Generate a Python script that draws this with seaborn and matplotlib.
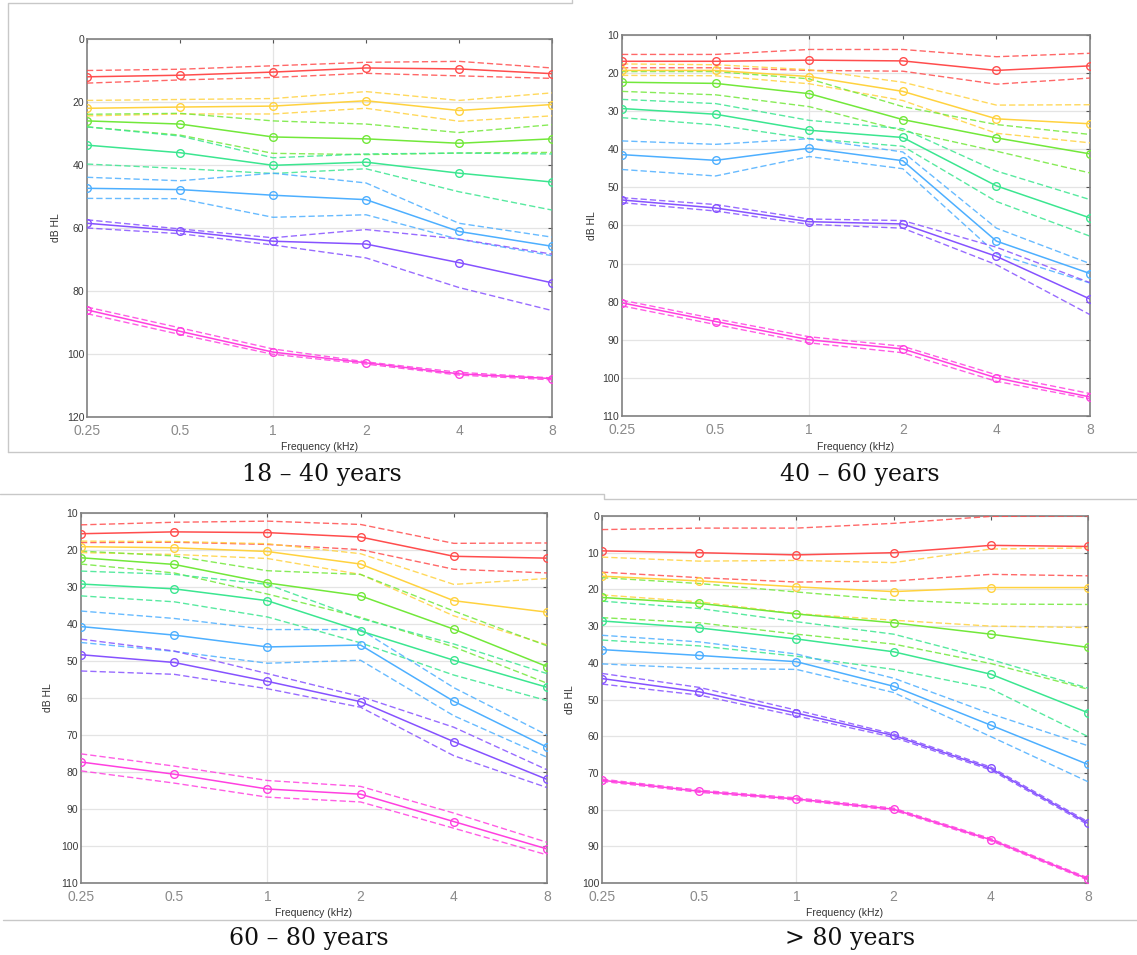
import matplotlib
matplotlib.use("Agg")
import matplotlib.pyplot as plt
from matplotlib.lines import Line2D
from matplotlib.ticker import NullLocator
import seaborn as sns

sns.set_style("white")
plt.rcParams["font.family"] = ["Liberation Sans", "DejaVu Sans"]

# ---------------- data ----------------
FREQS = [0.25, 0.5, 1, 2, 4, 8]
FREQ_LABELS = ["0.25", "0.5", "1", "2", "4", "8"]
GROUPS = ["red", "yellow", "green", "mint", "blue", "purple", "magenta"]
GROUP_COLORS = ["#FF4D4D", "#FFD23F", "#72E83A", "#3BE690", "#4DAFFF", "#8652FF", "#FF40E0"]
PANEL_TITLES = ["18 \u2013 40 years", "40 \u2013 60 years", "60 \u2013 80 years", "> 80 years"]
PANEL_YTICKS = [list(range(0, 121, 20)), list(range(10, 111, 10)),
                list(range(10, 111, 10)), list(range(0, 101, 10))]

# 18-40 years
p1_mean = [[12.0, 11.5, 10.5, 9.2, 9.5, 11.0],
           [22.0, 21.6, 21.3, 19.6, 22.7, 20.8],
           [26.0, 27.0, 31.1, 31.7, 33.1, 31.7],
           [33.7, 36.1, 40.1, 39.1, 42.6, 45.4],
           [47.4, 47.8, 49.6, 51.0, 61.1, 65.8],
           [58.5, 60.9, 64.2, 65.1, 71.0, 77.4],
           [86.0, 92.8, 99.4, 102.8, 106.3, 107.8]]
p1_upper = [[10.0, 9.6, 8.5, 7.4, 7.1, 9.2],
            [19.5, 19.2, 18.9, 16.7, 19.5, 17.1],
            [23.9, 23.6, 26.0, 27.0, 29.7, 27.2],
            [27.9, 30.8, 37.7, 36.5, 36.2, 36.5],
            [43.9, 45.0, 42.6, 45.7, 58.5, 62.9],
            [57.4, 60.3, 63.1, 60.5, 63.5, 68.3],
            [85.1, 91.7, 98.4, 102.5, 105.8, 107.6]]
p1_lower = [[14.0, 13.0, 12.2, 10.9, 11.7, 12.5],
            [24.4, 23.8, 23.8, 22.0, 26.1, 24.4],
            [27.9, 30.5, 36.3, 36.7, 36.2, 36.0],
            [39.7, 41.1, 42.7, 41.2, 48.5, 54.3],
            [50.6, 50.7, 56.6, 55.8, 63.6, 68.8],
            [60.0, 61.8, 65.4, 69.5, 78.9, 86.2],
            [87.2, 93.8, 100.1, 103.2, 106.7, 108.2]]

# 40-60 years
p2_mean = [[16.9, 16.9, 16.6, 16.8, 19.3, 18.1],
           [19.3, 19.3, 20.9, 24.8, 32.0, 33.3],
           [22.4, 22.7, 25.4, 32.2, 37.0, 41.2],
           [29.3, 30.8, 35.0, 36.9, 49.6, 58.0],
           [41.4, 42.9, 39.7, 43.0, 64.1, 72.6],
           [53.3, 55.4, 59.0, 59.6, 68.1, 79.3],
           [80.3, 85.2, 90.0, 92.4, 100.0, 105.0]]
p2_upper = [[15.1, 15.1, 13.8, 13.8, 15.7, 14.8],
            [17.6, 17.8, 19.1, 22.4, 28.4, 28.3],
            [19.6, 19.6, 21.5, 28.8, 33.5, 36.1],
            [26.9, 28.0, 32.4, 34.6, 45.7, 53.2],
            [37.8, 38.7, 37.2, 40.7, 60.7, 70.0],
            [52.7, 54.5, 58.3, 58.7, 65.7, 75.0],
            [79.6, 84.5, 89.2, 91.7, 99.2, 104.1]]
p2_lower = [[18.6, 18.6, 19.3, 19.5, 22.9, 21.3],
            [20.6, 20.7, 22.8, 27.2, 35.8, 38.3],
            [24.8, 25.7, 28.8, 35.1, 40.5, 46.2],
            [31.7, 33.6, 37.2, 39.2, 53.7, 62.8],
            [45.3, 47.0, 41.9, 45.1, 67.4, 75.1],
            [54.0, 56.2, 59.7, 60.7, 70.3, 83.4],
            [81.1, 86.0, 90.8, 93.4, 100.9, 105.5]]

# 60-80 years
p3_mean = [[15.6, 15.1, 15.3, 16.5, 21.7, 22.2],
           [19.1, 19.4, 20.4, 23.8, 33.7, 36.8],
           [22.1, 23.9, 28.9, 32.4, 41.4, 51.5],
           [29.2, 30.5, 33.7, 41.9, 49.8, 57.1],
           [40.7, 43.0, 46.2, 45.7, 60.9, 73.3],
           [48.3, 50.4, 55.5, 61.0, 71.8, 82.0],
           [77.3, 80.6, 84.6, 86.0, 93.4, 100.8]]
p3_upper = [[13.2, 12.5, 12.2, 13.1, 18.2, 18.1],
            [17.6, 17.7, 18.3, 21.0, 29.3, 27.7],
            [20.3, 21.6, 25.6, 26.6, 36.5, 45.9],
            [25.7, 26.6, 29.3, 38.5, 45.4, 53.4],
            [36.5, 38.5, 41.5, 41.5, 57.2, 70.0],
            [44.1, 47.3, 53.4, 59.6, 67.9, 79.4],
            [75.1, 78.4, 82.3, 83.9, 91.1, 99.0]]
p3_lower = [[18.0, 17.9, 18.5, 19.9, 25.2, 26.2],
            [20.7, 21.2, 22.3, 26.6, 37.8, 45.6],
            [23.8, 26.2, 31.9, 38.2, 46.2, 56.0],
            [32.4, 34.0, 38.1, 45.1, 53.8, 60.7],
            [45.0, 47.4, 50.6, 49.8, 64.8, 76.0],
            [52.7, 53.6, 57.5, 62.5, 75.6, 84.2],
            [79.7, 83.0, 86.8, 88.1, 95.2, 102.4]]

# > 80 years
p4_mean = [[9.5, 10.0, 10.6, 10.0, 8.0, 8.3],
           [16.4, 17.7, 19.3, 20.6, 19.5, 19.5],
           [22.2, 23.8, 26.7, 29.1, 32.2, 35.8],
           [28.6, 30.5, 33.5, 37.0, 43.1, 53.6],
           [36.4, 38.0, 39.7, 46.4, 57.0, 67.7],
           [44.3, 47.9, 53.7, 59.8, 68.8, 83.7],
           [72.0, 75.0, 77.1, 79.9, 88.2, 98.9]]
p4_upper = [[3.7, 3.3, 3.3, 2.0, 0.1, 0.0],
            [11.2, 12.3, 12.1, 12.7, 9.0, 8.7],
            [16.8, 18.4, 20.7, 22.9, 24.0, 24.1],
            [23.2, 25.2, 28.8, 32.2, 39.1, 46.9],
            [32.5, 34.3, 37.6, 44.2, 53.9, 62.6],
            [42.9, 46.7, 52.9, 59.4, 68.4, 83.3],
            [71.7, 74.7, 76.8, 79.6, 87.9, 98.6]]
p4_lower = [[15.3, 16.8, 18.0, 17.7, 15.9, 16.3],
            [21.5, 23.4, 26.6, 28.4, 30.0, 30.4],
            [27.7, 29.1, 32.2, 34.9, 40.2, 47.2],
            [33.8, 35.4, 38.2, 41.8, 47.1, 60.1],
            [40.3, 41.5, 41.8, 48.1, 60.1, 72.4],
            [45.8, 48.8, 54.5, 60.3, 69.2, 84.1],
            [72.3, 75.3, 77.4, 80.2, 88.5, 99.2]]

PANELS = [(p1_mean, p1_upper, p1_lower), (p2_mean, p2_upper, p2_lower),
          (p3_mean, p3_upper, p3_lower), (p4_mean, p4_upper, p4_lower)]

# ---------------- layout (pixels) ----------------
W, H = 1137, 955
# left, right, top, bottom of each axes box
BOXES = [(87, 552, 39, 417), (622, 1090, 35, 416), (81, 547, 513, 883), (602, 1088, 516, 883)]
YLABEL_X = [56, 592, 48, 570]
XLABEL_Y = [447, 447, 913, 913]
CAPTIONS = [(322, 474), (860, 474), (309, 938), (850, 938)]

fig = plt.figure(figsize=(W / 100, H / 100), dpi=100)
fig.patch.set_facecolor("white")

# screenshot frame lines
FRAME = "#c8c8c8"
def fline(xs, ys):
    fig.add_artist(Line2D([x / W for x in xs], [1 - y / H for y in ys],
                          color=FRAME, lw=1.0, transform=fig.transFigure))
fline([8, 8, 572, 572], [452, 3, 3, 0])
fline([8, 1137], [452, 452])
fline([0, 604, 604, 1137], [494, 494, 499, 499])
fline([3, 1137], [920, 920])

for i, (l, r, t, b) in enumerate(BOXES):
    ax = fig.add_axes([l / W, 1 - b / H, (r - l) / W, (b - t) / H])
    ax.set_xscale("log")
    mean, upper, lower = PANELS[i]
    for g, col in enumerate(GROUP_COLORS):
        for vals in (upper[g], lower[g]):
            sns.lineplot(x=FREQS, y=vals, ax=ax, color=col, lw=1.0,
                         linestyle=(0, (4.5, 2.2)), alpha=0.85, zorder=3)
        sns.lineplot(x=FREQS, y=mean[g], ax=ax, color=col, lw=1.1,
                     marker="o", markersize=5.5, markerfacecolor="none",
                     markeredgecolor=col, markeredgewidth=1.0, zorder=4)
    yt = PANEL_YTICKS[i]
    ax.set_xlim(0.25, 8)
    ax.set_ylim(yt[-1], yt[0])
    ax.set_xticks(FREQS)
    ax.set_xticklabels(FREQ_LABELS)
    ax.xaxis.set_minor_locator(NullLocator())
    ax.set_yticks(yt)
    ax.set_axisbelow(True)
    ax.grid(axis="y", color="#e4e4e4", lw=0.9)
    ax.axvline(1, color="#e4e4e4", lw=0.9, zorder=0)
    for s in ax.spines.values():
        s.set_color("#808080")
        s.set_linewidth(1.2)
    ax.tick_params(axis="both", direction="in", top=True, right=True,
                   length=3, width=0.8, color="#555555")
    ax.tick_params(axis="x", labelsize=10, labelcolor="#8a8a8a", pad=5)
    ax.tick_params(axis="y", labelsize=7.5, labelcolor="#3a3a3a", pad=2)
    ax.set_xlabel("Frequency (kHz)", fontsize=7.5, color="#333333")
    ax.xaxis.set_label_coords(0.5, 1 - (XLABEL_Y[i] - t) / (b - t), transform=ax.transAxes)
    ax.xaxis.label.set_va("center")
    ax.set_ylabel("dB HL", fontsize=7.5, color="#333333")
    ax.yaxis.set_label_coords((YLABEL_X[i] - l) / (r - l), 0.5, transform=ax.transAxes)
    ax.yaxis.label.set_va("center")
    cx, cy = CAPTIONS[i]
    fig.text(cx / W, 1 - cy / H, PANEL_TITLES[i], ha="center", va="center",
             fontsize=17, family="DejaVu Serif", color="#111111")

fig.savefig("out.png", dpi=100, facecolor="white")
